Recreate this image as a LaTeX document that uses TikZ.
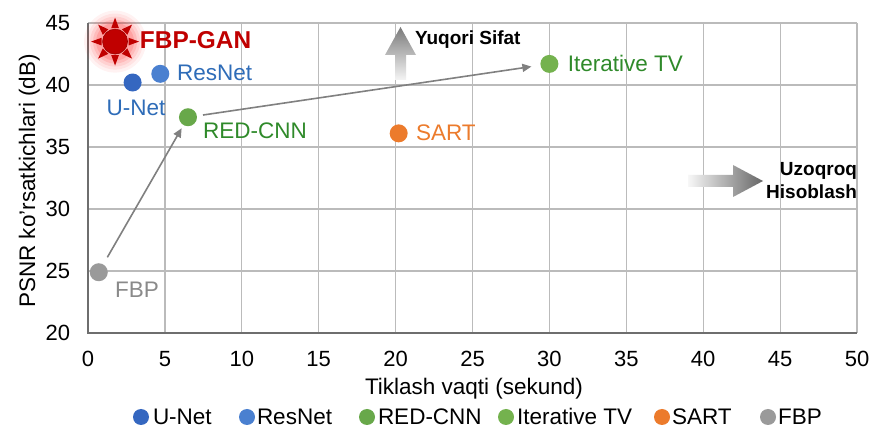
\documentclass[tikz,border=0pt]{standalone}
\usepackage{fontspec}
\setmainfont{Liberation Sans}
\usetikzlibrary{arrows.meta}
\definecolor{gridc}{HTML}{BBBBBB}
\definecolor{axisc}{HTML}{6E6E6E}
\definecolor{unetc}{HTML}{3567C0}
\definecolor{resnetc}{HTML}{4A80D0}
\definecolor{bluelab}{HTML}{2E6CB8}
\definecolor{redcnnc}{HTML}{68A84A}
\definecolor{itertvc}{HTML}{74B24E}
\definecolor{greenlab}{HTML}{2F8A2A}
\definecolor{sartc}{HTML}{EC7B2C}
\definecolor{fbpc}{HTML}{9A9A9A}
\definecolor{fbplab}{HTML}{8A8A8A}
\definecolor{ganc}{HTML}{C00000}
\definecolor{arrowc}{HTML}{808080}
\begin{document}
\begin{tikzpicture}[x=1pt,y=1pt,
  txt/.style={inner sep=0pt, outer sep=0pt, text height=16pt, text depth=0pt, font=\fontsize{22.5}{25}\selectfont},
  ticktxt/.style={inner sep=0pt, outer sep=0pt, text height=15.5pt, text depth=0pt, font=\fontsize{22}{25}\selectfont},
  boldtxt/.style={inner sep=0pt, outer sep=0pt, text height=13.6pt, text depth=0pt, font=\fontsize{19}{22}\selectfont\bfseries},
  gantxt/.style={inner sep=0pt, outer sep=0pt, text height=17.5pt, text depth=0pt, font=\fontsize{24.4}{27}\selectfont\bfseries},
  dot/.style={circle, inner sep=0pt, minimum size=18pt},
  legdot/.style={circle, inner sep=0pt, minimum size=16pt},
  conn/.style={draw=arrowc, line width=1.6pt, -{Triangle[length=9pt,width=8pt]}},
  gridline/.style={gridc, line width=1.2pt},
  ]
\useasboundingbox[fill=white] (0,0) rectangle (873,428);
\begin{scope}[shift={(88,-153)}, x=15.38pt, y=12.4pt]
  % grid
  \foreach \x in {5,10,...,50} \draw[gridline] (\x,20) -- (\x,45);
  \foreach \y in {25,30,...,45} \draw[gridline] (0,\y) -- (50,\y);
  \draw[axisc, line width=1.8pt] (0,45) -- (0,20) -- (50,20);
  % tick labels
  \foreach \y in {20,25,...,45} \node[ticktxt, anchor=east] at ([xshift=-18pt]0,\y) {\y};
  \foreach \x in {0,5,...,50} \node[ticktxt, anchor=north] at ([yshift=-18.5pt]\x,20) {\x};
  % sun for FBP-GAN
  \coordinate (sun) at (1.76,43.5);
  \foreach \r/\o in {31/0.05, 28/0.06, 25/0.08, 22/0.1, 19/0.13}
    \fill[red, opacity=\o] (sun) circle[radius=\r pt];
  \foreach \a in {0,45,...,315}
    \fill[ganc] ([shift={(\a:24pt)}]sun) -- ([shift={(\a+16:14pt)}]sun) -- ([shift={(\a-16:14pt)}]sun) -- cycle;
  \node[dot, minimum size=25pt, fill=ganc, draw=ganc!80!black, line width=0.6pt] (fbpgan) at (sun) {};
  % data points
  \node[dot, fill=unetc] (unet) at (2.9,40.2) {};
  \node[dot, fill=resnetc] (resnet) at (4.7,40.9) {};
  \node[dot, fill=redcnnc] (redcnn) at (6.5,37.4) {};
  \node[dot, fill=itertvc] (itertv) at (30.0,41.7) {};
  \node[dot, fill=sartc] (sart) at (20.2,36.1) {};
  \node[dot, fill=fbpc] (fbp) at (0.7,24.9) {};
  % labels
  \node[gantxt, anchor=west, text=ganc] (fbpganlab) at (3.38,43.63) {FBP-GAN};
  \node[txt, anchor=west, text=bluelab] (resnetlab) at (5.79,40.97) {ResNet};
  \node[txt, anchor=center, text=bluelab] (unetlab) at (3.12,38.15) {U-Net};
  \node[txt, anchor=west, text=greenlab] (redcnnlab) at (7.48,36.37) {RED-CNN};
  \node[txt, anchor=west, text=greenlab] (itertvlab) at (31.2,41.7) {Iterative TV};
  \node[txt, anchor=west, text=sartc] (sartlab) at (21.33,36.13) {SART};
  \node[txt, anchor=west, text=fbplab] (fbplab) at (1.76,23.47) {FBP};
  % connectors
  \draw[conn, shorten <=8pt, shorten >=3.5pt] (fbp) -- (redcnn);
  \draw[conn, shorten <=6pt, shorten >=9pt] (redcnn) -- (itertv);
\end{scope}
% quality arrow
\shade[top color=black!52, bottom color=black!4]
  (395,348) -- (395,373) -- (385,373) -- (400.5,401) -- (416,373) -- (406,373) -- (406,348) -- cycle;
\node[boldtxt, anchor=west] (quality) at (415,390.5) {Yuqori Sifat};
% time arrow
\shade[left color=black!3, right color=black!60]
  (688,241) -- (733,241) -- (733,231) -- (763,247) -- (733,263) -- (733,253) -- (688,253) -- cycle;
\node[boldtxt, anchor=east] (time1) at (857,259) {Uzoqroq};
\node[boldtxt, anchor=east] (time2) at (857,236) {Hisoblash};
% axis titles
\node[txt, anchor=center] (xtitle) at (474,41) {Tiklash vaqti (sekund)};
\node[txt, anchor=center, rotate=90] (ytitle) at (27,247) {PSNR ko’rsatkichlari (dB)};
% legend
\foreach \dx/\tx/\c/\t/\n in {141/153/unetc/U-Net/a, 247/257/resnetc/ResNet/b, 367/378/redcnnc/RED-CNN/c, 506/517/itertvc/Iterative TV/d, 662/672/sartc/SART/e, 768/778/fbpc/FBP/f}{
  \node[legdot, fill=\c] (leg\n) at (\dx,11) {};
  \node[txt, anchor=west] (legt\n) at (\tx,11) {\t};
}
\end{tikzpicture}
\end{document}
